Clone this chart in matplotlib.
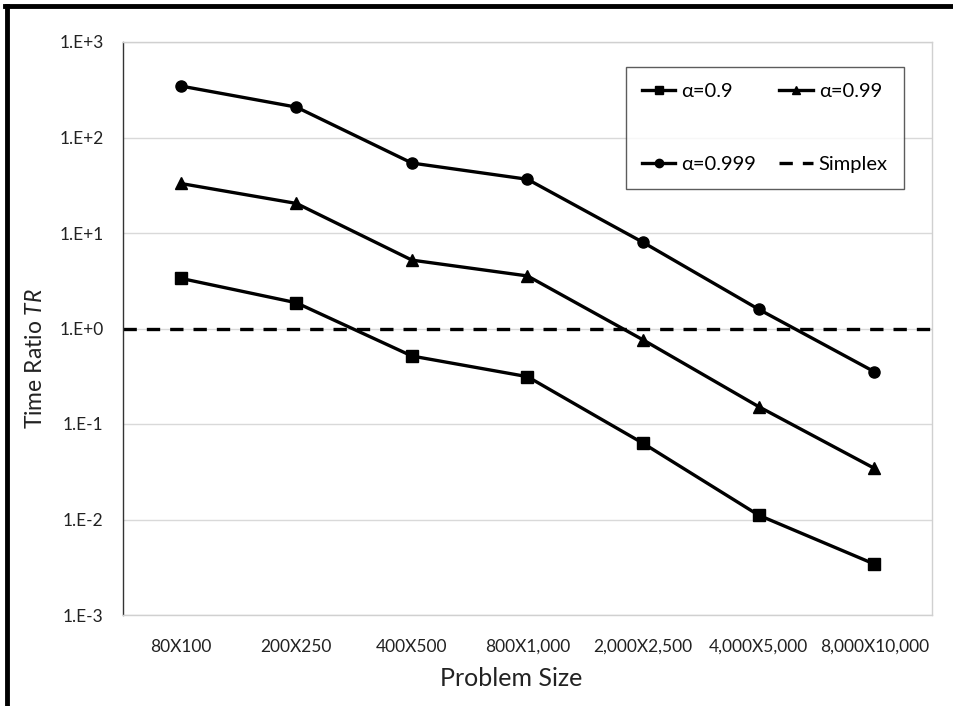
import matplotlib
matplotlib.use("Agg")
import matplotlib.pyplot as plt
from matplotlib.lines import Line2D

plt.rcParams['font.family'] = ['Lato', 'DejaVu Sans']
plt.rcParams['mathtext.fontset'] = 'custom'
plt.rcParams['mathtext.it'] = 'Lato:italic'
plt.rcParams['mathtext.rm'] = 'Lato'

categories = ["80X100", "200X250", "400X500", "800X1,000", "2,000X2,500", "4,000X5,000", "8,000X10,000"]
alpha_09 = [3.35, 1.86, 0.515, 0.313, 0.0628, 0.0111, 0.00342]
alpha_099 = [33.0, 20.4, 5.2, 3.55, 0.76, 0.152, 0.0344]
alpha_0999 = [346, 208, 54, 36.5, 7.98, 1.59, 0.353]
simplex = 1.0
yticks = [1e-3, 1e-2, 1e-1, 1e0, 1e1, 1e2, 1e3]
ytick_labels = ["1.E-3", "1.E-2", "1.E-1", "1.E+0", "1.E+1", "1.E+2", "1.E+3"]

fig = plt.figure(figsize=(9.54, 7.06), dpi=100)
ax = fig.add_axes([123/954, 1-615/706, (932-123)/954, (615-42)/706])

x = list(range(len(categories)))
h1, = ax.plot(x, alpha_09, color='black', lw=2.4, marker='s', ms=8, label='α=0.9')
h2, = ax.plot(x, alpha_099, color='black', lw=2.4, marker='^', ms=8, label='α=0.99')
h3, = ax.plot(x, alpha_0999, color='black', lw=2.4, marker='o', ms=8, label='α=0.999')
h4 = ax.axhline(simplex, color='black', lw=2.4, ls=(0, (4, 3)), label='Simplex')

ax.set_yscale('log')
ax.set_ylim(1e-3, 1e3)
ax.set_xlim(-0.5, len(categories) - 0.5)
ax.set_yticks(yticks)
ax.set_yticklabels(ytick_labels)
ax.minorticks_off()
ax.set_xticks(x)
ax.set_xticklabels(categories)
ax.tick_params(axis='both', length=0, labelsize=12.5, colors='#222222')
ax.tick_params(axis='x', pad=17)
ax.tick_params(axis='y', pad=14)
ax.yaxis.grid(True, color='#d9d9d9', lw=1)
ax.set_axisbelow(True)
for s in ['top', 'right', 'bottom']:
    ax.spines[s].set_color('#d0d0d0')
    ax.spines[s].set_linewidth(1)
ax.spines['left'].set_color('#333333')
ax.spines['left'].set_linewidth(1)

ax.set_xlabel('Problem Size', fontsize=18, color='#222222')
ax.xaxis.set_label_coords((511-123)/809, -(686-615)/573)
ax.xaxis.label.set_va('baseline')
ax.set_ylabel(r'Time Ratio $\mathit{TR}$', fontsize=16.5, color='#222222')
ax.yaxis.set_label_coords(-(123-25)/809, (615-359)/573)
ax.yaxis.label.set_va('top')

leg = ax.legend([h1, h3, h2, h4], ['α=0.9', 'α=0.999', 'α=0.99', 'Simplex'],
                ncol=2, loc='upper left', bbox_to_anchor=((626-123)/809, 1-(67-42)/573),
                borderaxespad=0,
                fontsize=14.5, frameon=True, fancybox=False, edgecolor='#333333',
                handlelength=1.65, columnspacing=1.15, labelspacing=2.75,
                borderpad=0.8, handletextpad=0.3, markerscale=0.75)
leg.get_frame().set_linewidth(1)

# figure border (left and top)
fig.add_artist(Line2D([7/954, 7/954], [0, 1-6/706], color='black', lw=3.5, transform=fig.transFigure))
fig.add_artist(Line2D([5/954, 1], [1-6/706, 1-6/706], color='black', lw=3.5, transform=fig.transFigure))

fig.savefig('out.png', dpi=100)
